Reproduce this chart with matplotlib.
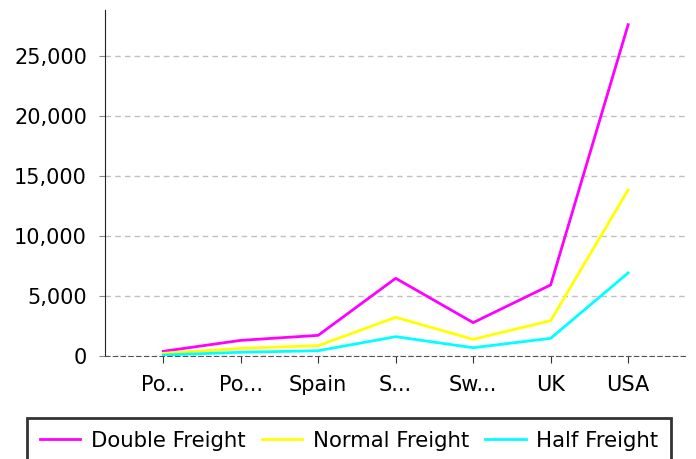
import matplotlib.pyplot as plt
from matplotlib.ticker import FuncFormatter

countries = ['Po...', 'Po...', 'Spain', 'S...', 'Sw...', 'UK', 'USA']
double_freight = [390, 1300, 1720, 6470, 2780, 5917, 27583]
normal_freight = [220, 640, 860, 3220, 1390, 2940, 13833]
half_freight = [80, 310, 440, 1610, 690, 1470, 6917]

fig = plt.figure(figsize=(6.96, 4.59), dpi=100)
ax = fig.add_axes([0.151, 0.2244, 0.835, 0.7536])

x = list(range(len(countries)))
ax.plot(x, double_freight, color='#ff00ff', lw=2, label='Double Freight')
ax.plot(x, normal_freight, color='#ffff00', lw=2, label='Normal Freight')
ax.plot(x, half_freight, color='#00ffff', lw=2, label='Half Freight')

ax.set_xlim(-0.75, 6.75)
ax.set_ylim(0, 28800)
ax.set_yticks([0, 5000, 10000, 15000, 20000, 25000])
ax.yaxis.set_major_formatter(FuncFormatter(lambda v, p: f'{int(v):,}'))
ax.set_xticks(x)
ax.set_xticklabels(countries)

ax.grid(axis='y', color='#c0c0c0', linestyle=(0, (4, 3)), lw=1)
ax.set_axisbelow(True)
for s in ['top', 'right']:
    ax.spines[s].set_visible(False)
ax.spines['left'].set_color('#222222')
ax.spines['bottom'].set_color('#555555')
ax.spines['bottom'].set_linestyle((0, (4, 3)))
ax.tick_params(axis='y', length=4, labelsize=15, pad=9, color='#888888')
ax.tick_params(axis='x', length=5, labelsize=15, pad=9, color='#333333')

leg = fig.legend(loc='upper center', bbox_to_anchor=(349 / 696, 1 - 418 / 459), ncol=3,
                 fontsize=15.3, frameon=True, fancybox=False, edgecolor='black',
                 handlelength=1.9, handletextpad=0.5, columnspacing=0.77,
                 borderpad=0.6, borderaxespad=0)
leg.get_frame().set_linewidth(2)

fig.savefig('out.png', dpi=100)
